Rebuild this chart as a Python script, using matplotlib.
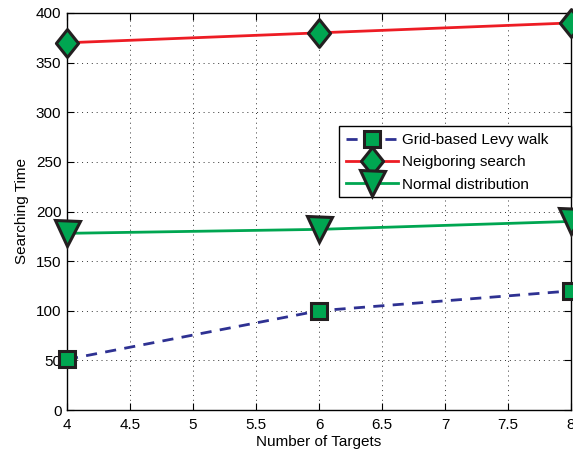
import matplotlib
matplotlib.use("Agg")
import matplotlib.pyplot as plt
from matplotlib.patches import Rectangle
from matplotlib.path import Path

plt.rcParams["font.family"] = ["Liberation Sans", "DejaVu Sans"]

targets = [4, 6, 8]
levy_walk = [51, 100, 120]
neighbor_search = [370, 380, 390]
normal_dist = [178, 182, 190]

x_ticks = [4, 4.5, 5, 5.5, 6, 6.5, 7, 7.5, 8]
y_ticks = [0, 50, 100, 150, 200, 250, 300, 350, 400]

_BLUE = "#2e3192"
_RED = "#ed1c24"
_GREEN = "#00a651"
_MFACE = "#00a651"
_MEDGE = "#231f20"

# slightly narrow diamond, like MATLAB's 'd'
_diamond = Path([(0, 1), (0.8, 0), (0, -1), (-0.8, 0), (0, 1)],
                [Path.MOVETO, Path.LINETO, Path.LINETO, Path.LINETO, Path.CLOSEPOLY])

fig = plt.figure(figsize=(5.73, 4.51), dpi=100)
ax = fig.add_axes([67 / 573, 41 / 451, (571 - 67) / 573, (410 - 13) / 451])

ax.plot(targets, levy_walk, color=_BLUE, lw=2, dashes=(4, 3), marker="s", ms=12,
        mfc=_MFACE, mec=_MEDGE, mew=2.2, label="Grid-based Levy walk", clip_on=False, zorder=5)
ax.plot(targets, neighbor_search, "-", color=_RED, lw=2, marker=_diamond, ms=20,
        mfc=_MFACE, mec=_MEDGE, mew=2.2, label="Neigboring search", clip_on=False, zorder=5)
ax.plot(targets, normal_dist, "-", color=_GREEN, lw=2, marker="v", ms=18,
        mfc=_MFACE, mec=_MEDGE, mew=2.2, label="Normal distribution", clip_on=False, zorder=5)

ax.set_xlim(4, 8)
ax.set_ylim(0, 400)
ax.set_xticks(x_ticks)
ax.set_xticklabels(["4", "4.5", "5", "5.5", "6", "6.5", "7", "7.5", "8"])
ax.set_yticks(y_ticks)
ax.tick_params(direction="in", length=5, width=0.8, labelsize=11,
               top=True, right=True, colors="black", pad=4)
ax.tick_params(axis="x", pad=6)
ax.grid(True, linestyle=(0, (1, 4)), color="black", lw=0.7, alpha=0.8)
for s in ax.spines.values():
    s.set_linewidth(1.0)

ax.set_xlabel("Number of Targets", fontsize=11, labelpad=2)
ax.set_ylabel("Searching Time", fontsize=11, labelpad=5)

# legend box drawn MATLAB-style, wider than the text
x0, x1 = (339 - 67) / 504, 1.0
y_top, y_bot = (410 - 126) / 397, (410 - 197) / 397
ax.add_patch(Rectangle((x0, y_bot), x1 - x0, y_top - y_bot, transform=ax.transAxes,
                       facecolor="white", edgecolor="black", lw=1.0, zorder=6, clip_on=False))
leg = ax.legend(loc="upper left", bbox_to_anchor=(x0, y_top),
                fontsize=11, frameon=False,
                borderpad=0.45, labelspacing=0.55, handlelength=3.4, handletextpad=0.3,
                borderaxespad=0.0)
leg.set_zorder(7)

fig.savefig("out.png", dpi=100)
